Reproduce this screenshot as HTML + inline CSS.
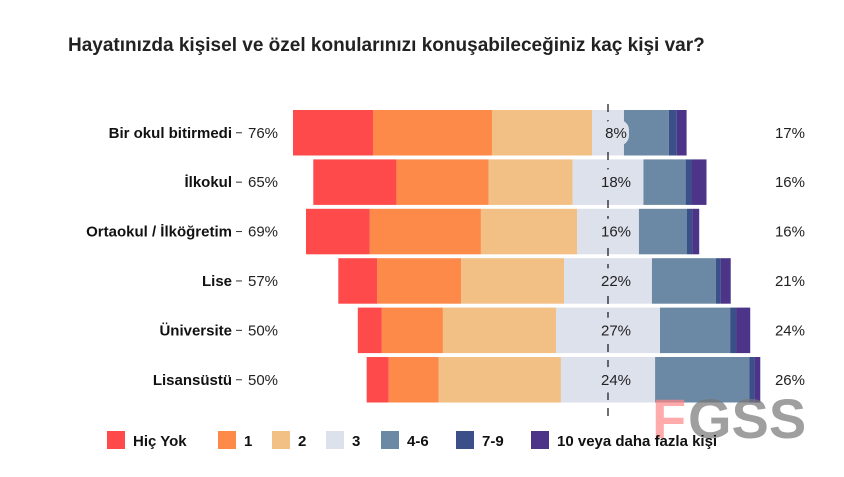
<!DOCTYPE html>
<html><head><meta charset="utf-8"><style>
body{margin:0;background:#fff;width:844px;height:472px;overflow:hidden;font-family:"Liberation Sans",sans-serif}
</style></head><body>
<svg id="chart" width="844" height="472" xmlns="http://www.w3.org/2000/svg" font-family="Liberation Sans, sans-serif">
<text x="68" y="51" font-size="19" font-weight="bold" fill="#222">Hayatınızda kişisel ve özel konularınızı konuşabileceğiniz kaç kişi var?</text>
<g id="bars"></g>
<g opacity="0.7">
<text x="652" y="438" font-size="56" font-weight="bold" fill="#f88">F</text>
<text x="688" y="438" font-size="56" font-weight="bold" fill="#777">GSS</text>
</g>
<g id="legend"></g>
</svg>
<script>
const categories=["Bir okul bitirmedi","İlkokul","Ortaokul / İlköğretim","Lise","Üniversite","Lisansüstü"];
const seriesNames=["Hiç Yok","1","2","3","4-6","7-9","10 veya daha fazla kişi"];
const hicYok=[20.3,21.1,16.2,9.9,6.1,5.6];
const s1=[30.2,23.4,28.2,21.3,15.5,12.7];
const s2=[25.4,21.3,24.4,26.1,28.7,31.0];
const s3=[8.1,18.0,15.7,22.3,26.4,23.9];
const s46=[11.4,10.7,12.2,16.2,17.8,23.9];
const s79=[2.0,1.5,1.3,1.3,1.5,1.3];
const s10=[2.5,3.8,1.8,2.5,3.6,1.5];
const leftLabels=["76%","65%","69%","57%","50%","50%"];
const midLabels=["8%","18%","16%","22%","27%","24%"];
const rightLabels=["17%","16%","16%","21%","24%","26%"];
const colors=["#fe4a4a","#fe8a4a","#f2bf85","#dde1ec","#6b89a4","#3b5088","#4c3588"];
const NS="http://www.w3.org/2000/svg";
const series=[hicYok,s1,s2,s3,s46,s79,s10];
const cx=608,k=3.94,rowTop=110,rowStep=49.4,barH=45.5;
const x=v=>v*k;
const y=i=>rowTop+i*rowStep;
const g=document.getElementById('bars');
function mk(t,a){const e=document.createElementNS(NS,t);for(const n in a)e.setAttribute(n,a[n]);return e;}
categories.forEach((c,i)=>{
  let start=cx-x(s3[i])/2-x(hicYok[i]+s1[i]+s2[i]);
  series.forEach((s,j)=>{
    const r=mk('rect',{x:start,y:y(i),width:x(s[i]),height:barH,fill:colors[j]});
    
    
    g.appendChild(r);start+=x(s[i]);
  });
});
const dl=mk('line',{x1:cx,x2:cx,y1:104,y2:416,stroke:'#222','stroke-width':1.3,'stroke-dasharray':'8 8'});

g.appendChild(dl);
categories.forEach((c,i)=>{
  const cy=y(i)+barH/2+5;
  const t=mk('text',{x:232,y:cy,'text-anchor':'end','font-size':15,'font-weight':'bold',fill:'#111'});t.textContent=c;
  
  g.appendChild(t);
  const tk=mk('line',{x1:236,x2:242,y1:cy-5,y2:cy-5,stroke:'#333','stroke-width':1});
  
  g.appendChild(tk);
  const l=mk('text',{x:248,y:cy,'font-size':15,fill:'#222'});l.textContent=leftLabels[i];
  
  g.appendChild(l);
  const bw=midLabels[i].length*9+8;
  const bg=mk('rect',{x:cx+8-bw/2,y:y(i)+10,width:bw,height:barH-20,rx:10,fill:'#dde1ec'});
  
  g.appendChild(bg);
  const m=mk('text',{x:cx+8,y:cy,'font-size':15,fill:'#222','text-anchor':'middle'});m.textContent=midLabels[i];
  
  g.appendChild(m);
  const r=mk('text',{x:805,y:cy,'font-size':15,fill:'#222','text-anchor':'end'});r.textContent=rightLabels[i];
  
  g.appendChild(r);
});
const lg=document.getElementById('legend');
const lx=[107,218,272,326,381,456,531];
seriesNames.forEach((n,j)=>{
  const r=mk('rect',{x:lx[j],y:431,width:18,height:18,fill:colors[j]});
  
  lg.appendChild(r);
  const t=mk('text',{x:lx[j]+26,y:446,'font-size':15,'font-weight':'bold',fill:'#111'});t.textContent=n;
  
  lg.appendChild(t);
});
</script>
</body></html>
